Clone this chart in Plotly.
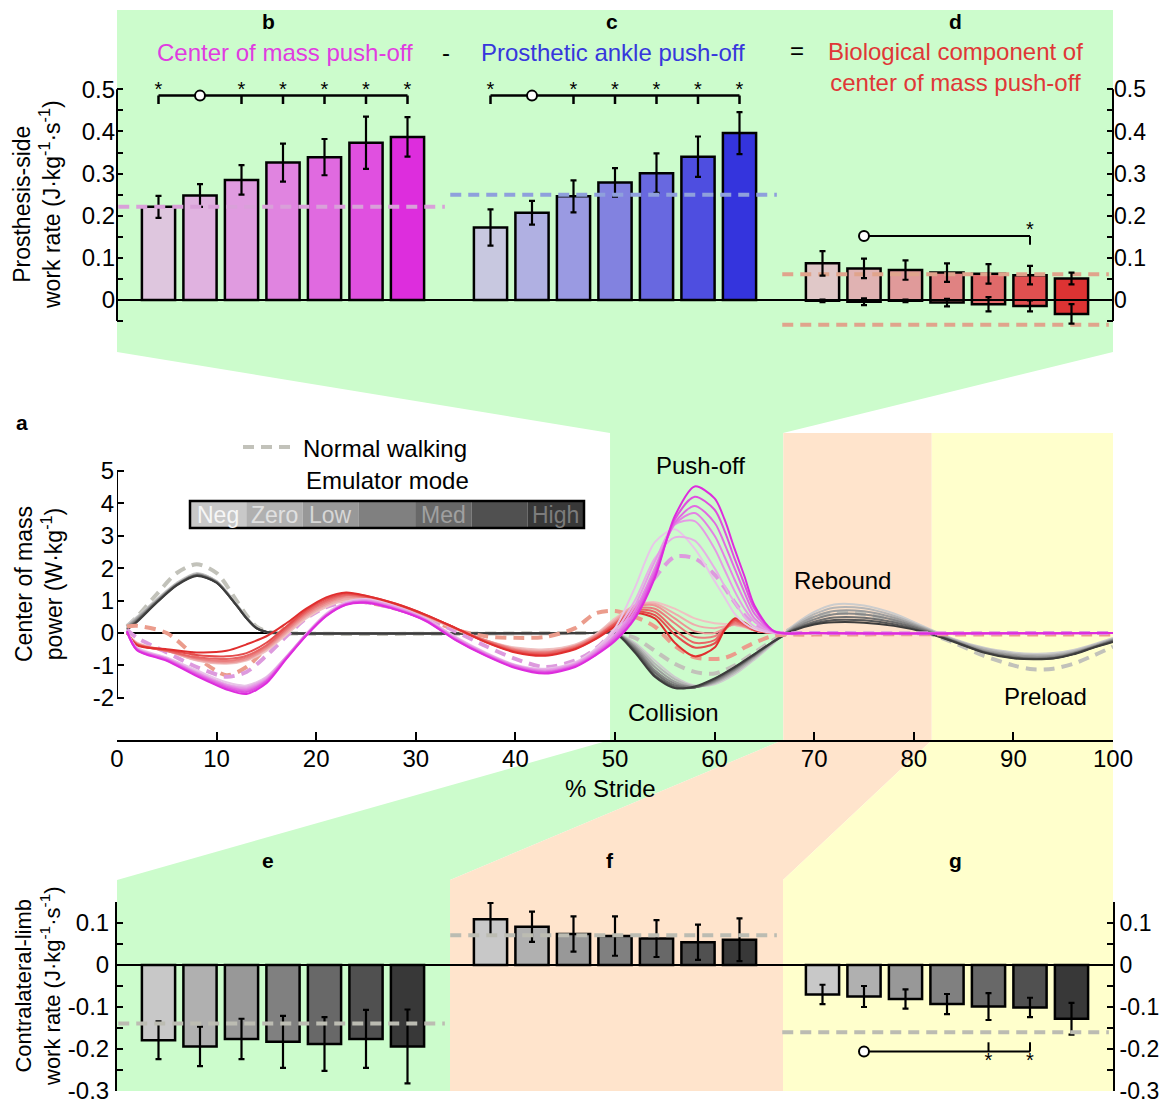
import plotly.graph_objects as go

# The page body adds an 8 px margin, so the figure is drawn 8 px smaller and
# every reference pixel position is shifted by that offset.
OFF = 8
W, H = 1168 - OFF, 1108 - OFF
FONT = "Liberation Sans, Arial, Helvetica, sans-serif"

# ------------------------------------------------------------------ data
MODES = ["Neg", "Zero", "Low", "Low-Med", "Med", "Med-High", "High"]
LEGEND_LABELS = ["Neg", "Zero", "Low", "", "Med", "", "High"]

# b: centre-of-mass push-off work rate (prosthesis side)
B_MEAN = [0.221, 0.248, 0.285, 0.326, 0.339, 0.373, 0.387]
B_ERR = [0.026, 0.027, 0.035, 0.045, 0.043, 0.062, 0.047]
# c: prosthetic ankle push-off
C_MEAN = [0.172, 0.207, 0.246, 0.279, 0.301, 0.340, 0.396]
C_ERR = [0.043, 0.028, 0.038, 0.034, 0.047, 0.048, 0.050]
# d: biological component (positive and negative parts)
D_POS = [0.087, 0.075, 0.071, 0.065, 0.062, 0.059, 0.051]
D_POS_ERR = [0.029, 0.023, 0.023, 0.022, 0.023, 0.022, 0.014]
D_NEG = [-0.002, -0.004, -0.002, -0.006, -0.010, -0.014, -0.033]
D_NEG_ERR = [0.003, 0.008, 0.003, 0.009, 0.017, 0.013, 0.023]
# e, f, g: contralateral limb (collision, rebound, preload)
E_MEAN = [-0.179, -0.194, -0.176, -0.183, -0.188, -0.176, -0.194]
E_ERR = [0.045, 0.047, 0.048, 0.062, 0.064, 0.069, 0.088]
F_MEAN = [0.109, 0.091, 0.074, 0.069, 0.063, 0.054, 0.060]
F_ERR = [0.039, 0.036, 0.042, 0.047, 0.044, 0.042, 0.051]
G_MEAN = [-0.070, -0.075, -0.081, -0.093, -0.099, -0.101, -0.128]
G_ERR = [0.023, 0.025, 0.023, 0.024, 0.032, 0.023, 0.038]

# normal walking reference levels
B_NORMAL = [0.221]
C_NORMAL = [0.250]
D_NORMAL = [0.061, -0.059]
E_NORMAL = [-0.139]
F_NORMAL = [0.071]
G_NORMAL = [-0.160]

# significance markers (reference index, starred indices, levels)
BC_SIG_REF, BC_SIG_STARS = 1, [0, 2, 3, 4, 5, 6]
BC_SIG_LEVELS = (0.485, 0.465, 0.497)          # line, tick end, star
D_SIG_REF, D_SIG_STARS = 1, [5]
D_SIG_LEVELS = (0.152, 0.131, 0.164)
G_SIG_REF, G_SIG_STARS = 1, [4, 5]
G_SIG_LEVELS = (-0.206, -0.184, -0.232)

# middle panel: centre-of-mass power vs % stride
MX = [1, 2, 5, 8, 11, 13, 15, 17, 19, 21, 23, 25, 28, 31, 34, 37, 40, 43, 46, 48,
      50, 52, 54, 56, 58, 60, 61, 62, 63, 64, 66, 70, 100]
MAGENTA = [
    [0.05, -0.45, -0.75, -1.15, -1.52, -1.62, -1.35, -0.72, -0.02, 0.60, 0.95, 1.05, 0.82, 0.45, -0.12, -0.60, -0.98, -1.10, -0.90, -0.50,
     0.15, 1.40, 2.80, 3.20, 2.60, 1.60, 1.10, 0.60, 0.30, 0.12, 0.00, 0.00, 0.00],
    [0.05, -0.47, -0.78, -1.20, -1.58, -1.66, -1.38, -0.73, -0.03, 0.58, 0.93, 1.02, 0.80, 0.43, -0.14, -0.62, -1.00, -1.12, -0.93, -0.55,
     0.05, 1.00, 2.30, 2.95, 2.85, 2.00, 1.45, 0.95, 0.50, 0.20, 0.00, 0.00, 0.00],
    [0.05, -0.48, -0.80, -1.22, -1.60, -1.70, -1.42, -0.74, -0.04, 0.56, 0.92, 1.00, 0.78, 0.42, -0.16, -0.63, -1.00, -1.15, -0.95, -0.58,
     -0.05, 0.85, 2.20, 3.35, 3.45, 2.60, 1.95, 1.30, 0.75, 0.35, 0.02, 0.00, 0.00],
    [0.05, -0.50, -0.80, -1.25, -1.63, -1.74, -1.45, -0.75, -0.05, 0.55, 0.90, 0.98, 0.76, 0.40, -0.18, -0.65, -1.02, -1.18, -0.98, -0.62,
     -0.10, 0.70, 2.00, 3.35, 3.70, 3.00, 2.35, 1.65, 1.00, 0.45, 0.03, 0.00, 0.00],
    [0.05, -0.50, -0.82, -1.27, -1.66, -1.78, -1.47, -0.77, -0.06, 0.54, 0.89, 0.96, 0.74, 0.39, -0.20, -0.67, -1.04, -1.20, -1.00, -0.65,
     -0.15, 0.60, 1.90, 3.40, 3.92, 3.40, 2.75, 2.00, 1.25, 0.60, 0.04, 0.00, 0.00],
    [0.05, -0.52, -0.84, -1.30, -1.70, -1.82, -1.50, -0.78, -0.07, 0.53, 0.88, 0.95, 0.73, 0.38, -0.21, -0.68, -1.06, -1.22, -1.02, -0.68,
     -0.20, 0.50, 1.80, 3.50, 4.20, 3.80, 3.15, 2.30, 1.50, 0.75, 0.05, 0.00, 0.00],
    [0.05, -0.53, -0.86, -1.33, -1.74, -1.88, -1.55, -0.80, -0.08, 0.52, 0.87, 0.93, 0.72, 0.37, -0.22, -0.70, -1.08, -1.25, -1.05, -0.70,
     -0.25, 0.45, 1.70, 3.60, 4.52, 4.15, 3.50, 2.60, 1.75, 0.85, 0.05, 0.00, 0.00],
]
RED = [
    [0.00, -0.30, -0.55, -0.85, -0.95, -0.85, -0.55, -0.05, 0.45, 0.80, 1.00, 1.00, 0.82, 0.50, 0.12, -0.22, -0.45, -0.50, -0.35, -0.05,
     0.45, 0.85, 0.95, 0.75, 0.45, 0.30, 0.28, 0.25, 0.18, 0.08, 0.00, 0.00, 0.00],
    [0.00, -0.32, -0.55, -0.83, -0.92, -0.82, -0.50, 0.00, 0.50, 0.85, 1.05, 1.05, 0.85, 0.52, 0.13, -0.22, -0.48, -0.55, -0.38, -0.08,
     0.40, 0.85, 0.90, 0.60, 0.25, 0.15, 0.20, 0.25, 0.20, 0.08, 0.00, 0.00, 0.00],
    [0.00, -0.33, -0.55, -0.80, -0.90, -0.80, -0.47, 0.05, 0.55, 0.90, 1.10, 1.08, 0.86, 0.53, 0.14, -0.22, -0.50, -0.58, -0.40, -0.10,
     0.35, 0.80, 0.85, 0.45, 0.05, 0.00, 0.15, 0.28, 0.20, 0.08, 0.00, 0.00, 0.00],
    [0.00, -0.34, -0.55, -0.78, -0.86, -0.75, -0.42, 0.10, 0.60, 0.95, 1.15, 1.10, 0.87, 0.54, 0.15, -0.23, -0.52, -0.60, -0.42, -0.12,
     0.30, 0.75, 0.75, 0.30, -0.12, -0.10, 0.12, 0.30, 0.22, 0.08, 0.00, 0.00, 0.00],
    [0.00, -0.35, -0.55, -0.75, -0.80, -0.70, -0.38, 0.15, 0.65, 1.00, 1.18, 1.12, 0.88, 0.55, 0.15, -0.25, -0.55, -0.63, -0.45, -0.15,
     0.30, 0.70, 0.65, 0.10, -0.30, -0.22, 0.12, 0.35, 0.25, 0.08, 0.00, 0.00, 0.00],
    [0.00, -0.36, -0.52, -0.68, -0.72, -0.62, -0.30, 0.20, 0.70, 1.05, 1.22, 1.14, 0.90, 0.56, 0.15, -0.27, -0.58, -0.67, -0.48, -0.18,
     0.25, 0.65, 0.55, -0.05, -0.45, -0.32, 0.08, 0.40, 0.28, 0.10, 0.00, 0.00, 0.00],
    [0.00, -0.38, -0.50, -0.60, -0.55, -0.35, -0.10, 0.30, 0.75, 1.10, 1.25, 1.15, 0.90, 0.56, 0.15, -0.28, -0.60, -0.70, -0.50, -0.20,
     0.20, 0.60, 0.45, -0.30, -0.72, -0.45, 0.10, 0.45, 0.32, 0.10, 0.00, 0.00, 0.00],
]
MAGENTA_NORMAL = [0.10, -0.15, -0.60, -1.05, -1.35, -1.20, -0.70, -0.10, 0.45, 0.80, 0.95, 0.95, 0.75, 0.45, 0.05, -0.40, -0.80, -1.05, -0.85, -0.50,
                  0.10, 0.75, 1.70, 2.35, 2.30, 1.80, 1.40, 0.95, 0.55, 0.25, 0.02, 0.00, 0.00]
RED_NORMAL = [0.20, 0.22, 0.00, -0.75, -1.30, -1.05, -0.45, 0.20, 0.65, 0.90, 1.00, 0.95, 0.75, 0.45, 0.10, -0.10, -0.15, -0.12, 0.15, 0.60,
              0.68, 0.50, 0.20, -0.40, -0.75, -0.80, -0.77, -0.65, -0.45, -0.30, -0.08, -0.05, -0.05]

GX = [1, 2, 4, 6, 8, 10, 12, 13, 14, 15, 16, 48, 50, 52, 54, 56, 58, 60, 62, 64, 66, 68, 70, 72,
      75, 78, 81, 84, 87, 90, 92, 94, 96, 98, 100]
GRAY = [
    [0.25, 0.50, 1.05, 1.55, 1.85, 1.60, 0.90, 0.50, 0.18, 0.04, 0.00, 0.00, 0.00,
     -0.30, -0.85, -1.35, -1.62, -1.58, -1.28, -0.82, -0.30, 0.25, 0.65, 0.88, 0.85, 0.60, 0.20, -0.18, -0.45, -0.60, -0.64, -0.62, -0.52, -0.35, -0.15],
    [0.22, 0.47, 1.02, 1.53, 1.83, 1.60, 0.88, 0.48, 0.17, 0.04, 0.00, 0.00, 0.00,
     -0.35, -0.95, -1.42, -1.64, -1.54, -1.22, -0.77, -0.28, 0.22, 0.58, 0.78, 0.76, 0.53, 0.17, -0.20, -0.48, -0.64, -0.68, -0.66, -0.56, -0.38, -0.18],
    [0.20, 0.44, 1.00, 1.50, 1.80, 1.58, 0.86, 0.47, 0.16, 0.03, 0.00, 0.00, 0.00,
     -0.40, -1.05, -1.50, -1.66, -1.51, -1.17, -0.73, -0.26, 0.18, 0.50, 0.68, 0.67, 0.47, 0.14, -0.22, -0.52, -0.68, -0.72, -0.70, -0.60, -0.41, -0.20],
    [0.17, 0.41, 0.98, 1.50, 1.80, 1.57, 0.85, 0.46, 0.15, 0.03, 0.00, 0.00, 0.00,
     -0.45, -1.15, -1.56, -1.67, -1.48, -1.13, -0.70, -0.24, 0.15, 0.42, 0.58, 0.57, 0.40, 0.11, -0.24, -0.56, -0.72, -0.76, -0.74, -0.62, -0.43, -0.22],
    [0.14, 0.38, 0.96, 1.49, 1.78, 1.56, 0.85, 0.46, 0.15, 0.03, 0.00, 0.00, 0.00,
     -0.50, -1.22, -1.62, -1.68, -1.45, -1.10, -0.68, -0.24, 0.12, 0.35, 0.48, 0.47, 0.33, 0.08, -0.25, -0.58, -0.75, -0.79, -0.77, -0.64, -0.44, -0.24],
    [0.12, 0.36, 0.95, 1.48, 1.77, 1.55, 0.85, 0.46, 0.15, 0.03, 0.00, 0.00, 0.00,
     -0.55, -1.30, -1.67, -1.68, -1.42, -1.07, -0.66, -0.24, 0.10, 0.30, 0.40, 0.39, 0.27, 0.05, -0.26, -0.59, -0.77, -0.80, -0.78, -0.65, -0.45, -0.26],
    [0.10, 0.34, 0.94, 1.47, 1.76, 1.55, 0.85, 0.45, 0.15, 0.03, 0.00, 0.00, 0.00,
     -0.60, -1.35, -1.70, -1.65, -1.40, -1.05, -0.65, -0.25, 0.08, 0.26, 0.33, 0.32, 0.22, 0.03, -0.27, -0.60, -0.78, -0.81, -0.79, -0.66, -0.46, -0.28],
]
GRAY_NORMAL = [0.20, 0.50, 1.20, 1.85, 2.12, 1.85, 1.00, 0.55, 0.20, 0.05, 0.00, 0.00, 0.00,
               -0.15, -0.55, -0.95, -1.20, -1.25, -1.00, -0.60, -0.20, 0.20, 0.50, 0.62, 0.58, 0.38, 0.05, -0.30, -0.70, -1.00, -1.12, -1.10, -0.95, -0.70, -0.42]

X_TICKS = list(range(0, 101, 10))
MID_TICKS = [-2, -1, 0, 1, 2, 3, 4, 5]
TOP_TICKS = [0, 0.1, 0.2, 0.3, 0.4, 0.5]
TOP_MINOR = [-0.05, 0.05, 0.15, 0.25, 0.35, 0.45]
BOT_TICKS = [-0.3, -0.2, -0.1, 0, 0.1]
BOT_MINOR = [-0.25, -0.15, -0.05, 0.05, 0.15]

# phase boundaries (% stride)
PHASES = [(49.5, 66.9, "#ccfccc"), (66.9, 81.8, "#ffe4cc"), (81.8, 100, "#ffffcc")]

# ------------------------------------------------------------------ styles
B_COLORS = ["#dec6de", "#e0b2e0", "#e09be0", "#e084e0", "#e06ae0", "#e050e0", "#dd2ddd"]
C_COLORS = ["#c8c8e0", "#b0b0e2", "#9a9ae2", "#8282e0", "#6868e0", "#4e4ee0", "#3434dd"]
D_COLORS = ["#e0c8c8", "#e0b2b2", "#e09a9a", "#e08282", "#e06a6a", "#e05050", "#dd3333"]
K_COLORS = ["#c8c8c8", "#b0b0b0", "#989898", "#808080", "#686868", "#505050", "#383838"]
MAG_LINE = ["#e8c6e8", "#e6b0e6", "#e59ae5", "#e482e4", "#e26ae2", "#e04ee0", "#dd2cdd"]
RED_LINE = ["#efc2c2", "#eeacac", "#ec9595", "#ea7e7e", "#e86666", "#e54c4c", "#e02e2e"]
GRAY_LINE = ["#cdcdcd", "#b6b6b6", "#9e9e9e", "#878787", "#6f6f6f", "#575757", "#3c3c3c"]


def px(x):
    return (x - OFF) / W


def py(y):
    return 1 - (y - OFF) / H


X_DOM = [px(117), px(1113)]
TOP_Z, TOP_S, TOP_RANGE = 300.0, 421.4, [-0.075, 0.52]
MID_Z, MID_S, MID_RANGE = 633.0, 32.43, [-3.30, 6.17]
BOT_Z, BOT_S, BOT_RANGE = 965.0, 420.0, [-0.30, 0.15]


def dom(z, s, r):
    return [py(z - r[0] * s), py(z - r[1] * s)]


GROUP_START = [0, 8, 16]
XB = [GROUP_START[0] + i for i in range(len(MODES))]
XC = [GROUP_START[1] + i for i in range(len(MODES))]
XD = [GROUP_START[2] + i for i in range(len(MODES))]

fig = go.Figure()
ERR = dict(type="data", color="black", thickness=2.2, width=3)
BAR_LINE = dict(color="black", width=2.5)


def add_bars(x, y, colors, err, xa, ya, base=None):
    e = dict(ERR, array=err) if err is not None else None
    fig.add_trace(go.Bar(x=x, y=y, base=base, width=0.8, marker=dict(color=colors, line=BAR_LINE),
                         error_y=e, xaxis=xa, yaxis=ya, hoverinfo="skip"))


def add_err(x, y, err, xa, ya):
    fig.add_trace(go.Scatter(x=x, y=y, mode="markers", marker=dict(size=1, color="rgba(0,0,0,0)"),
                             error_y=dict(ERR, array=err), xaxis=xa, yaxis=ya, hoverinfo="skip"))


def add_normal(start, levels, color, xa, ya):
    for lv in levels:
        fig.add_trace(go.Scatter(x=[start - 0.97, start + 6.9], y=[lv, lv], mode="lines",
                                 line=dict(color=color, width=4, dash="11px,7px"),
                                 xaxis=xa, yaxis=ya, hoverinfo="skip"))


def add_sig(xs, ref, stars, levels, xa, ya, width=2.5):
    line_lv, tick_lv, star_lv = levels
    bx = [min(xs[ref], xs[min(stars)]), xs[max(stars)]]
    px_, py_ = [bx[0], bx[1], None], [line_lv, line_lv, None]
    for s in stars:
        px_ += [xs[s], xs[s], None]
        py_ += [line_lv, tick_lv, None]
    fig.add_trace(go.Scatter(x=px_, y=py_, mode="lines", line=dict(color="black", width=width),
                             xaxis=xa, yaxis=ya, hoverinfo="skip"))
    fig.add_trace(go.Scatter(x=[xs[ref]], y=[line_lv], mode="markers",
                             marker=dict(symbol="circle", size=10, color="white", line=dict(color="black", width=2)),
                             xaxis=xa, yaxis=ya, hoverinfo="skip", cliponaxis=False))
    fig.add_trace(go.Scatter(x=[xs[s] for s in stars], y=[star_lv] * len(stars), mode="text", text=["*"] * len(stars),
                             textfont=dict(family=FONT, size=20, color="black"), textposition="middle center",
                             xaxis=xa, yaxis=ya, hoverinfo="skip", cliponaxis=False))


# ---------------- top panels b, c, d
add_normal(GROUP_START[0], B_NORMAL, "#d9a0d9", "x2", "y2")
add_normal(GROUP_START[1], C_NORMAL, "#8fa0dc", "x2", "y2")
add_normal(GROUP_START[2], D_NORMAL, "#e0a48c", "x2", "y2")
add_bars(XB, B_MEAN, B_COLORS, B_ERR, "x2", "y2")
add_bars(XC, C_MEAN, C_COLORS, C_ERR, "x2", "y2")
add_bars(XD, [p - n for p, n in zip(D_POS, D_NEG)], D_COLORS, None, "x2", "y2", base=D_NEG)
add_err(XD, D_POS, D_POS_ERR, "x2", "y2")
add_err(XD, D_NEG, D_NEG_ERR, "x2", "y2")
add_sig(XB, BC_SIG_REF, BC_SIG_STARS, BC_SIG_LEVELS, "x2", "y2")
add_sig(XC, BC_SIG_REF, BC_SIG_STARS, BC_SIG_LEVELS, "x2", "y2")
add_sig(XD, D_SIG_REF, D_SIG_STARS, D_SIG_LEVELS, "x2", "y2", width=2)
fig.add_trace(go.Scatter(x=[0], y=[0], mode="markers", marker=dict(opacity=0), xaxis="x2", yaxis="y3", hoverinfo="skip"))

# ---------------- bottom panels e, f, g
add_normal(GROUP_START[0], E_NORMAL, "#bcbcb2", "x3", "y4")
add_normal(GROUP_START[1], F_NORMAL, "#bcbcb2", "x3", "y4")
add_normal(GROUP_START[2], G_NORMAL, "#bcbcb2", "x3", "y4")
add_bars(XB, E_MEAN, K_COLORS, E_ERR, "x3", "y4")
add_bars(XC, F_MEAN, K_COLORS, F_ERR, "x3", "y4")
add_bars(XD, G_MEAN, K_COLORS, G_ERR, "x3", "y4")
add_sig(XD, G_SIG_REF, G_SIG_STARS, G_SIG_LEVELS, "x3", "y4", width=2)
fig.add_trace(go.Scatter(x=[0], y=[0], mode="markers", marker=dict(opacity=0), xaxis="x3", yaxis="y5", hoverinfo="skip"))


# ---------------- middle panel a
def add_curve(x, y, color, width=2.0, dash=None):
    fig.add_trace(go.Scatter(x=x, y=y, mode="lines", line=dict(color=color, width=width, dash=dash, shape="spline", smoothing=0.8),
                             xaxis="x", yaxis="y", hoverinfo="skip"))


add_curve(GX, GRAY_NORMAL, "#c2c2ba", 4, "11px,7px")
for ys, c in zip(GRAY, GRAY_LINE):
    add_curve(GX, ys, c)
add_curve(MX, RED_NORMAL, "#eb9c8c", 4, "11px,7px")
add_curve(MX, MAGENTA_NORMAL, "#dd9ade", 4, "11px,7px")
for ys, c in zip(RED, RED_LINE):
    add_curve(MX, ys, c)
for ys, c in zip(MAGENTA, MAG_LINE):
    add_curve(MX, ys, c)

# ------------------------------------------------------------------ shapes
shapes = []


def poly(points, color):
    path = "M " + " L ".join(f"{px(a):.5f},{py(b):.5f}" for a, b in points) + " Z"
    shapes.append(dict(type="path", path=path, xref="paper", yref="paper", fillcolor=color,
                       line=dict(width=0), layer="below"))


GREEN, PEACH, YELLOW = PHASES[0][2], PHASES[1][2], PHASES[2][2]
poly([(117, 10), (1113, 10), (1113, 352), (783, 433), (610, 433), (117, 352)], GREEN)
poly([(610, 740), (783, 740), (450, 880), (450, 1091), (117, 1091), (117, 880)], GREEN)
poly([(783, 740), (932, 740), (783, 880), (783, 1091), (450, 1091), (450, 880)], PEACH)
poly([(932, 740), (1113, 740), (1113, 1091), (783, 1091), (783, 880)], YELLOW)
for x0, x1, col in PHASES:
    shapes.append(dict(type="rect", xref="x", yref="y domain", x0=x0, x1=x1, y0=0, y1=1,
                       fillcolor=col, line=dict(width=0), layer="below"))
# zero line of panel a
shapes.append(dict(type="line", xref="x", yref="y", x0=1, x1=100, y0=0, y1=0,
                   line=dict(color="black", width=2), layer="below"))
# axis lines drawn to exact extents
for xx in (117, 1113):
    shapes.append(dict(type="line", xref="paper", yref="y2", x0=px(xx), x1=px(xx), y0=-0.05, y1=0.5,
                       line=dict(color="black", width=2)))
shapes.append(dict(type="line", xref="x", yref="y", x0=0, x1=0, y0=-2, y1=5, line=dict(color="black", width=2)))
shapes.append(dict(type="line", xref="paper", yref="y2", x0=px(117), x1=px(1113), y0=0, y1=0,
                   line=dict(color="black", width=2)))
shapes.append(dict(type="line", xref="paper", yref="y4", x0=px(117), x1=px(1113), y0=0, y1=0,
                   line=dict(color="black", width=2)))

# emulator-mode legend bar
LEG_X0, LEG_X1, LEG_Y0, LEG_Y1 = 190, 584, 501, 528
seg = (LEG_X1 - LEG_X0) / len(MODES)
for i, c in enumerate(K_COLORS):
    shapes.append(dict(type="rect", xref="paper", yref="paper", x0=px(LEG_X0 + i * seg), x1=px(LEG_X0 + (i + 1) * seg),
                       y0=py(LEG_Y1), y1=py(LEG_Y0), fillcolor=c, line=dict(width=0)))
shapes.append(dict(type="rect", xref="paper", yref="paper", x0=px(LEG_X0), x1=px(LEG_X1), y0=py(LEG_Y1), y1=py(LEG_Y0),
                   line=dict(color="black", width=2.5)))
shapes.append(dict(type="line", xref="paper", yref="paper", x0=px(243), x1=px(295), y0=py(447), y1=py(447),
                   line=dict(color="#c2c2ba", width=4, dash="11px,7px")))


# ------------------------------------------------------------------ annotations
def txt(s, x, y, size=24, color="black", bold=False, xanchor="center", angle=0):
    fig.add_annotation(text=f"<b>{s}</b>" if bold else s, x=px(x), y=py(y), xref="paper", yref="paper",
                       showarrow=False, font=dict(family=FONT, size=size, color=color),
                       xanchor=xanchor, yanchor="middle", textangle=angle)


txt("b", 268, 21, 21, bold=True)
txt("c", 612, 21, 21, bold=True)
txt("d", 955, 21, 21, bold=True)
txt("Center of mass push-off", 285, 53, 24, "#e03ce0")
txt("-", 446, 52, 24)
txt("Prosthetic ankle push-off", 613, 53, 24, "#3737dc")
txt("=", 797, 51, 24)
txt("Biological component of<br>center of mass push-off", 955, 67, 24, "#e03737")
txt("Prosthesis-side<br>work rate (J·kg<sup>-1</sup>·s<sup>-1</sup>)", 37, 205, 23, angle=-90)
txt("a", 22, 423, 21, bold=True)
txt("Center of mass<br>power (W·kg<sup>-1</sup>)", 39, 584, 23, angle=-90)
txt("Normal walking", 301, 448, 24, xanchor="left")
txt("Emulator mode", 387, 480, 24)
LEG_TEXT = ["#f6f6f6", "#e0e0e0", "#d6d6d6", "#000000", "#a0a0a0", "#000000", "#7c7c7c"]
for i, lab in enumerate(LEGEND_LABELS):
    if lab:
        txt(lab, LEG_X0 + (i + 0.5) * seg, 515, 23, LEG_TEXT[i])
txt("Push-off", 700, 465, 24)
txt("Rebound", 842, 580, 24)
txt("Collision", 673, 712, 24)
txt("Preload", 1045, 696, 24)
txt("% Stride", 610, 788, 24)
txt("e", 268, 860, 21, bold=True)
txt("f", 610, 860, 21, bold=True)
txt("g", 955, 860, 21, bold=True)
txt("Contralateral-limb<br>work rate (J·kg<sup>-1</sup>·s<sup>-1</sup>)", 38, 986, 22, angle=-90)

# ------------------------------------------------------------------ axes
TICKFONT = dict(family=FONT, size=24, color="black")
TICKFONT_R = dict(family=FONT, size=23, color="black")


def fmt(v):
    return f"{v:g}"


def yax(domain, rng, ticks, minor, showline=False, side="left", overlay=None, anchor="x"):
    d = dict(range=rng, showgrid=False, zeroline=False, showline=showline, linecolor="black", linewidth=2,
             ticks="inside", ticklen=6, tickwidth=2, tickcolor="black", tickmode="array", automargin=False,
             tickvals=ticks, ticktext=[fmt(v) for v in ticks],
             tickfont=TICKFONT_R if side == "right" else TICKFONT, side=side, anchor=anchor,
             ticklabelstandoff=0 if side == "right" else 1,
             minor=dict(tickmode="array", tickvals=minor, ticks="inside", ticklen=6, tickwidth=2, tickcolor="black"))
    if overlay:
        d["overlaying"] = overlay
    else:
        d["domain"] = domain
    return d


fig.update_layout(
    width=W, height=H, margin=dict(l=0, r=0, t=0, b=0, pad=0, autoexpand=False),
    paper_bgcolor="white", plot_bgcolor="rgba(0,0,0,0)",
    showlegend=False, barmode="overlay", hovermode=False,
    font=dict(family=FONT, size=24, color="black"),
    shapes=shapes,
    xaxis=dict(domain=X_DOM, anchor="y", range=[0, 100], showgrid=False, zeroline=False, showline=True,
               linecolor="black", linewidth=2, ticks="inside", ticklen=8, tickwidth=2, tickcolor="black",
               tickmode="array", tickvals=X_TICKS, ticktext=[str(v) for v in X_TICKS], tickfont=TICKFONT,
               automargin=False, ticklabelstandoff=-4),
    yaxis=dict(domain=dom(MID_Z, MID_S, MID_RANGE), anchor="x", range=MID_RANGE, showgrid=False, zeroline=False,
               showline=False, ticks="inside", ticklen=7, tickwidth=2, tickcolor="black", tickmode="array",
               tickvals=MID_TICKS, ticktext=[str(v) for v in MID_TICKS], tickfont=TICKFONT, automargin=False,
               ticklabelstandoff=2),
    xaxis2=dict(domain=X_DOM, anchor="y2", range=[-1, 23], visible=False, automargin=False),
    yaxis2=yax(dom(TOP_Z, TOP_S, TOP_RANGE), TOP_RANGE, TOP_TICKS, TOP_MINOR, anchor="x2"),
    yaxis3=yax(None, TOP_RANGE, TOP_TICKS, TOP_MINOR, side="right", overlay="y2", anchor="x2"),
    xaxis3=dict(domain=X_DOM, anchor="y4", range=[-1, 23], visible=False, automargin=False),
    yaxis4=yax(dom(BOT_Z, BOT_S, BOT_RANGE), BOT_RANGE, BOT_TICKS, BOT_MINOR, showline=True, anchor="x3"),
    yaxis5=yax(None, BOT_RANGE, BOT_TICKS, BOT_MINOR, showline=True, side="right", overlay="y4", anchor="x3"),
)

fig.write_html("out.html")
